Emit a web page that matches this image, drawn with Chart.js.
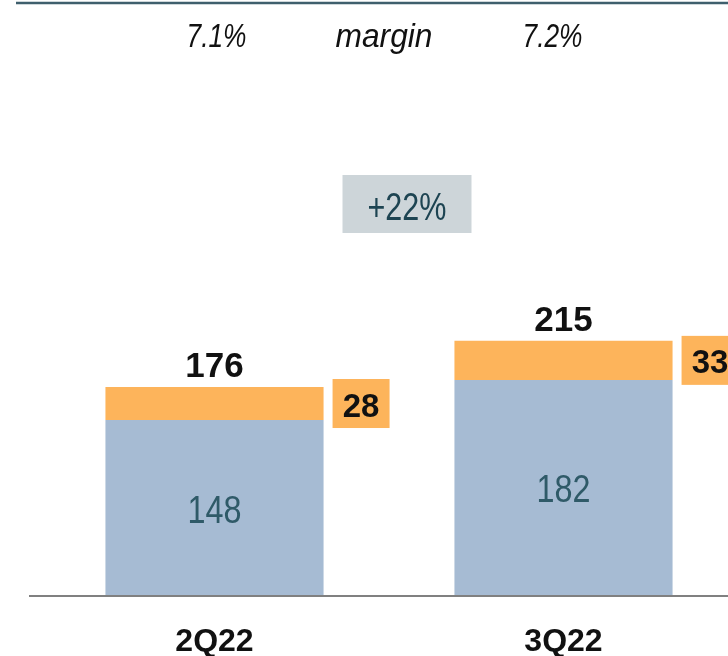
<!DOCTYPE html>
<html>
<head>
<meta charset="utf-8">
<script src="https://cdn.jsdelivr.net/npm/chart.js@4.4.1/dist/chart.umd.min.js"></script>
<style>
    html, body { margin: 0; padding: 0; background: #ffffff; overflow: hidden; }
    #wrap { position: relative; width: 760px; height: 700px; }
</style>
</head>
<body>
<div id="wrap"><canvas id="chart" width="760" height="700"></canvas></div>
<script>
const quarters = ['2Q22', '3Q22'];
const baseValues = [148, 182];
const extraValues = [28, 33];
const margins = ['7.1%', '7.2%'];
const marginLabel = 'margin';
const growthLabel = '+22%';

const totals = baseValues.map((v, i) => v + extraValues[i]);

const blue = '#A6BBD3';
const orange = '#FDB45B';
const sans = "'Liberation Sans', 'DejaVu Sans', sans-serif";

const overlay = {
    id: 'overlay',
    afterDraw(chart) {
        const ctx = chart.ctx;
        const x = chart.scales.x;
        const y = chart.scales.y;
        const zero = y.getPixelForValue(0);
        const mid = (x.getPixelForValue(0) + x.getPixelForValue(1)) / 2;
        ctx.save();

        // top rule
        ctx.strokeStyle = '#3F5F6D';
        ctx.lineWidth = 2.5;
        ctx.beginPath();
        ctx.moveTo(16, 3);
        ctx.lineTo(chart.width, 3);
        ctx.stroke();

        // baseline
        ctx.strokeStyle = '#808080';
        ctx.lineWidth = 2;
        ctx.beginPath();
        ctx.moveTo(x.left - 11, zero + 1);
        ctx.lineTo(chart.width, zero + 1);
        ctx.stroke();

        // margin row (condensed italic)
        ctx.fillStyle = '#111111';
        ctx.font = 'italic 34px ' + sans;
        ctx.textAlign = 'center';
        ctx.textBaseline = 'alphabetic';
        const shift = [2, -11];
        margins.forEach((m, i) => ctx.fillText(m, x.getPixelForValue(i) + shift[i], 47, 60));
        ctx.fillText(marginLabel, mid - 5, 47, 97);

        // growth box
        ctx.fillStyle = '#CDD5D9';
        ctx.fillRect(mid + 18 - 64.5, 175, 129, 58);
        ctx.fillStyle = '#1D4452';
        ctx.font = '38px ' + sans;
        ctx.fillText(growthLabel, mid + 18, 220, 79);

        const baseMeta = chart.getDatasetMeta(0).data;
        const extraMeta = chart.getDatasetMeta(1).data;
        quarters.forEach((q, i) => {
            const b = baseMeta[i];
            const e = extraMeta[i];

            // value inside blue bar
            ctx.fillStyle = '#2F5A68';
            ctx.font = '38px ' + sans;
            ctx.fillText(String(baseValues[i]), b.x, (b.y + b.base) / 2 + 15, 54);

            // total above bar
            ctx.fillStyle = '#111111';
            ctx.font = 'bold 35px ' + sans;
            ctx.fillText(String(totals[i]), e.x, e.y - 10);

            // side box with increment
            const bx = e.x + e.width / 2 + 9;
            const cy = (e.y + e.base) / 2;
            ctx.fillStyle = orange;
            ctx.fillRect(bx, cy - 24.5, 57, 49);
            ctx.fillStyle = '#111111';
            ctx.font = 'bold 33px ' + sans;
            ctx.fillText(String(extraValues[i]), bx + 28.5, cy + 13);
        });
        ctx.restore();
    }
};

new Chart(document.getElementById('chart'), {
    type: 'bar',
    data: {
        labels: quarters,
        datasets: [
            { data: baseValues, backgroundColor: blue, borderWidth: 0 },
            { data: extraValues, backgroundColor: orange, borderWidth: 0 }
        ]
    },
    options: {
        responsive: false,
        animation: false,
        devicePixelRatio: 1,
        layout: { padding: { left: 40, right: 22, top: 4, bottom: 10.6 } },
        datasets: { bar: { categoryPercentage: 0.625, barPercentage: 1 } },
        plugins: { legend: { display: false }, tooltip: { enabled: false } },
        scales: {
            x: {
                stacked: true,
                grid: { display: false, drawTicks: false },
                border: { display: false },
                ticks: {
                    color: '#111111',
                    padding: 28,
                    font: { family: sans, size: 32, weight: 'bold', lineHeight: 1.2 }
                }
            },
            y: {
                stacked: true,
                display: false,
                min: 0,
                max: 500
            }
        }
    },
    plugins: [overlay]
});
</script>
</body>
</html>
